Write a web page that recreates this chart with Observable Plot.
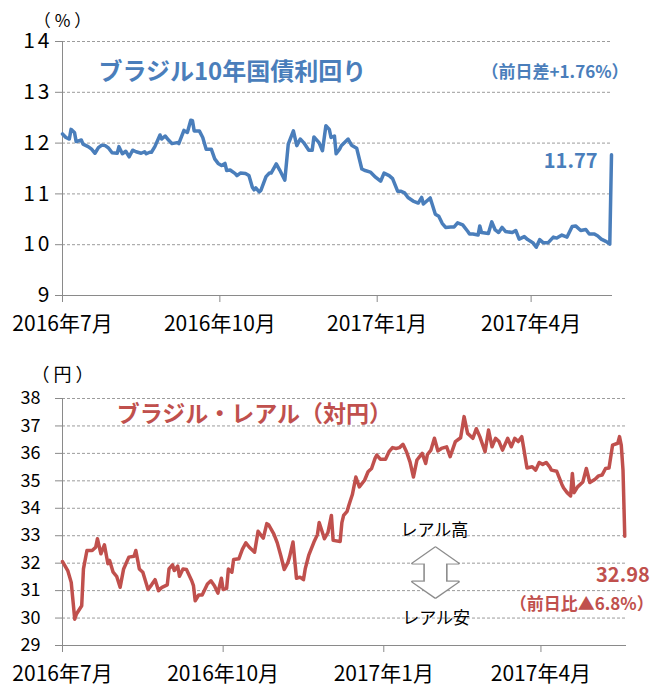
<!DOCTYPE html>
<html><head><meta charset="utf-8">
<script src="https://cdn.jsdelivr.net/npm/d3@7"></script>
<script src="https://cdn.jsdelivr.net/npm/@observablehq/plot@0.6"></script>
<style>
body{margin:0;background:#fff;}
#c{width:654px;height:687px;overflow:hidden;}
#c svg{display:block;overflow:visible;}
.updown{transform-box:fill-box;transform-origin:center;transform:scale(2.0,1.4);}
.unit text{letter-spacing:4px;}
.ytop text{letter-spacing:3px;}
</style></head><body><div id="c"></div>
<script>
// ---- data ----
const yieldDates = [
"2016-07-01","2016-07-03","2016-07-05","2016-07-06","2016-07-08","2016-07-09","2016-07-12","2016-07-13","2016-07-16","2016-07-18","2016-07-20","2016-07-22","2016-07-24","2016-07-26","2016-07-28","2016-07-30",
"2016-08-02","2016-08-03","2016-08-05","2016-08-07","2016-08-09","2016-08-11","2016-08-13","2016-08-16","2016-08-18","2016-08-19","2016-08-21","2016-08-22","2016-08-24","2016-08-27","2016-08-28","2016-08-30",
"2016-09-01","2016-09-03","2016-09-06","2016-09-07","2016-09-10","2016-09-12","2016-09-14","2016-09-15","2016-09-16","2016-09-19","2016-09-21","2016-09-23","2016-09-26","2016-09-28","2016-09-30",
"2016-10-02","2016-10-04","2016-10-05","2016-10-07","2016-10-10","2016-10-11","2016-10-13","2016-10-16","2016-10-18","2016-10-20","2016-10-21","2016-10-22","2016-10-24","2016-10-25","2016-10-28","2016-10-30","2016-10-31",
"2016-11-03","2016-11-05","2016-11-08","2016-11-10","2016-11-13","2016-11-15","2016-11-17","2016-11-19","2016-11-22","2016-11-24","2016-11-25","2016-11-28","2016-11-30",
"2016-12-02","2016-12-04","2016-12-05","2016-12-07","2016-12-08","2016-12-10","2016-12-11","2016-12-15","2016-12-17","2016-12-20","2016-12-23","2016-12-25","2016-12-28","2016-12-31",
"2017-01-03","2017-01-05","2017-01-08","2017-01-10","2017-01-13","2017-01-15","2017-01-17","2017-01-19","2017-01-22","2017-01-25","2017-01-27","2017-01-28","2017-01-30",
"2017-02-01","2017-02-04","2017-02-06","2017-02-08","2017-02-10","2017-02-13","2017-02-15","2017-02-17","2017-02-20","2017-02-23","2017-02-24","2017-02-26",
"2017-03-01","2017-03-02","2017-03-03","2017-03-07","2017-03-09","2017-03-11","2017-03-13","2017-03-15","2017-03-17","2017-03-21","2017-03-23","2017-03-25","2017-03-28","2017-03-30",
"2017-04-02","2017-04-04","2017-04-06","2017-04-08","2017-04-11","2017-04-14","2017-04-16","2017-04-19","2017-04-22","2017-04-25","2017-04-27","2017-04-30",
"2017-05-03","2017-05-05","2017-05-08","2017-05-10","2017-05-12","2017-05-15","2017-05-17","2017-05-18"];
const yieldValues = [
12.18,12.11,12.08,12.27,12.21,12.03,12.06,11.98,11.93,11.88,11.80,11.91,11.96,11.95,11.90,11.81,
11.80,11.93,11.79,11.84,11.73,11.86,11.83,11.80,11.83,11.79,11.82,11.82,11.93,12.16,12.08,12.14,
12.06,11.99,12.01,11.99,12.25,12.21,12.45,12.44,12.24,12.24,12.11,11.88,11.88,11.69,11.60,
11.56,11.60,11.46,11.47,11.40,11.36,11.41,11.40,11.36,11.13,11.08,11.12,11.04,11.07,11.34,11.41,11.41,
11.59,11.47,11.27,11.98,12.24,11.95,12.08,12.01,11.86,11.86,12.12,12.01,11.85,
12.34,12.27,12.11,12.14,11.79,11.88,11.95,12.08,11.96,11.90,11.49,11.46,11.43,11.33,
11.25,11.41,11.36,11.30,11.05,11.05,11.02,10.93,10.86,10.82,10.93,10.80,10.86,
10.92,10.60,10.56,10.42,10.34,10.35,10.35,10.43,10.39,10.26,10.21,10.21,
10.19,10.37,10.24,10.22,10.45,10.29,10.24,10.34,10.26,10.24,10.28,10.11,10.16,10.10,
10.04,9.95,10.10,10.04,10.04,10.15,10.13,10.19,10.15,10.36,10.37,10.28,
10.30,10.21,10.21,10.17,10.11,10.06,10.01,11.77];

const brlDates = [
"2016-07-01","2016-07-04","2016-07-06","2016-07-08","2016-07-09","2016-07-12","2016-07-13","2016-07-15","2016-07-18","2016-07-20","2016-07-21","2016-07-23","2016-07-25","2016-07-27","2016-07-28","2016-07-30",
"2016-08-01","2016-08-03","2016-08-05","2016-08-08","2016-08-11","2016-08-12","2016-08-14","2016-08-16","2016-08-19","2016-08-21","2016-08-23","2016-08-25","2016-08-27","2016-08-30","2016-08-31",
"2016-09-02","2016-09-03","2016-09-05","2016-09-06","2016-09-08","2016-09-10","2016-09-13","2016-09-14","2016-09-15","2016-09-17","2016-09-19","2016-09-22","2016-09-24","2016-09-26","2016-09-28","2016-09-30",
"2016-10-01","2016-10-03","2016-10-04","2016-10-06","2016-10-07","2016-10-10","2016-10-12","2016-10-14","2016-10-16","2016-10-19","2016-10-21","2016-10-24","2016-10-26","2016-10-27","2016-10-30",
"2016-11-01","2016-11-03","2016-11-05","2016-11-07","2016-11-08","2016-11-10","2016-11-12","2016-11-14","2016-11-16","2016-11-17","2016-11-19","2016-11-22","2016-11-24","2016-11-25","2016-11-28","2016-11-30",
"2016-12-02","2016-12-03","2016-12-07","2016-12-08","2016-12-09","2016-12-11","2016-12-12","2016-12-14","2016-12-16","2016-12-18","2016-12-21","2016-12-23","2016-12-25","2016-12-27","2016-12-28","2016-12-30",
"2017-01-02","2017-01-04","2017-01-06","2017-01-08","2017-01-10","2017-01-12","2017-01-14","2017-01-16","2017-01-18","2017-01-20","2017-01-23","2017-01-25","2017-01-26","2017-01-28","2017-01-30",
"2017-02-01","2017-02-03","2017-02-06","2017-02-08","2017-02-11","2017-02-14","2017-02-16","2017-02-18","2017-02-21","2017-02-23","2017-02-25","2017-02-28",
"2017-03-02","2017-03-04","2017-03-06","2017-03-08","2017-03-10","2017-03-13","2017-03-15","2017-03-17","2017-03-19","2017-03-21","2017-03-22","2017-03-24","2017-03-27","2017-03-29","2017-03-31",
"2017-04-02","2017-04-04","2017-04-06","2017-04-07","2017-04-10","2017-04-13","2017-04-14","2017-04-16","2017-04-18","2017-04-19","2017-04-20","2017-04-22","2017-04-25","2017-04-27","2017-04-29",
"2017-05-02","2017-05-04","2017-05-06","2017-05-08","2017-05-10","2017-05-12","2017-05-15","2017-05-16","2017-05-17","2017-05-18","2017-05-19"];
const brlValues = [
32.06,31.73,31.30,29.96,30.15,30.45,31.79,32.46,32.46,32.58,32.89,32.34,32.67,31.98,32.10,31.67,
31.52,31.12,31.79,32.22,32.25,32.46,31.79,31.67,31.04,31.21,31.40,31.00,31.12,31.21,31.79,
31.94,31.73,31.89,31.52,31.79,31.77,31.36,31.18,30.63,30.84,30.84,31.24,31.36,31.18,30.91,31.45,
31.04,31.08,31.79,31.67,32.13,32.16,32.50,32.74,32.58,32.40,33.16,32.91,33.44,33.40,33.07,
32.74,32.28,31.77,32.01,32.22,32.77,31.45,31.49,31.40,31.79,32.28,32.77,33.04,33.48,32.89,33.11,
33.74,32.83,32.79,33.48,33.74,33.89,34.11,34.50,35.14,34.78,35.02,35.33,35.45,35.82,35.94,35.79,
35.79,36.06,36.21,36.18,36.21,36.33,36.06,35.69,35.14,35.76,36.00,35.63,35.96,36.12,36.55,
36.09,36.18,36.24,35.88,36.43,36.57,37.34,36.73,36.55,36.90,36.61,36.06,
36.85,36.24,36.55,36.43,36.12,36.55,36.24,36.55,36.43,36.61,36.24,35.47,35.51,35.39,35.67,
35.60,35.67,35.51,35.39,35.35,34.87,34.74,34.57,34.45,35.27,34.57,34.78,34.96,35.45,34.94,
35.06,35.18,35.21,35.45,35.47,36.30,36.37,36.61,36.30,35.39,32.98];

const xTickDates = ["2016-07-01","2016-10-01","2017-01-01","2017-04-01"];
const xTickLabels = ["2016年7月","2016年10月","2017年1月","2017年4月"];
const yieldTicks = [9,10,11,12,13,14];
const brlTicks = [29,30,31,32,33,34,35,36,37,38];

const yieldTitle = "ブラジル10年国債利回り";
const yieldChange = "（前日差+1.76%）";
const yieldUnit = "（%）";
const brlTitle = "ブラジル・レアル（対円）";
const brlChange = "（前日比▲6.8%）";
const brlUnit = "（円）";
const upLabel = "レアル高";
const downLabel = "レアル安";

// ---- build ----
const FONT = '"Noto Sans CJK JP","Noto Sans",sans-serif';
const BLUE = "#4A7EBB", RED = "#C0504D", GRID = "#9c9c9c", AXIS = "#8a8a8a";
const parse = s => new Date(s + "T00:00:00Z");
const xt = xTickDates.map(parse);
const fmt = d => xTickLabels[xt.findIndex(t => +t === +d)];
const yieldData = yieldDates.map((d, i) => ({date: parse(d), value: yieldValues[i]}));
const brlData = brlDates.map((d, i) => ({date: parse(d), value: brlValues[i]}));
const yLast = yieldData[yieldData.length - 1];
const bLast = brlData[brlData.length - 1];

const topChart = Plot.plot({
  width: 654, height: 340,
  marginTop: 41, marginBottom: 45, marginLeft: 62, marginRight: 42,
  style: {fontFamily: FONT, background: "#fff", color: "#000"},
  x: {type: "utc", domain: [xt[0], new Date("2017-05-18T14:00:00Z")]},
  y: {domain: [9, 14]},
  marks: [
    Plot.ruleY(yieldTicks.slice(1), {stroke: GRID, strokeDasharray: "3,2"}),
    Plot.axisY(yieldTicks, {tickSize: 7, tickPadding: 3, tickFormat: d => String(d), stroke: AXIS, fill: "#000", fontSize: 21, label: null, className: "ytop"}),
    Plot.axisX(xt, {tickSize: 7, tickPadding: 14, tickFormat: fmt, stroke: AXIS, fill: "#000", fontSize: 21, label: null}),
    Plot.ruleY([9], {stroke: AXIS}),
    Plot.ruleX([xt[0]], {stroke: AXIS}),
    Plot.line(yieldData, {x: "date", y: "value", stroke: BLUE, strokeWidth: 3.5, strokeLinejoin: "round"}),
    Plot.text([yieldUnit], {x: () => xt[0], y: () => 14, dy: -20, dx: 2, text: d => d, fontSize: 17, fill: "#000", className: "unit"}),
    Plot.text([yieldTitle], {x: () => parse("2016-07-22"), y: () => 13.39, text: d => d, textAnchor: "start", fontSize: 24, fontWeight: "bold", fill: BLUE}),
    Plot.text([yieldChange], {x: () => parse("2017-04-15"), y: () => 13.38, text: d => d, fontSize: 17, fontWeight: "bold", fill: BLUE}),
    Plot.text([yLast], {x: "date", y: "value", text: d => d.value.toFixed(2), dx: -14, dy: 7, textAnchor: "end", fontSize: 20, fontWeight: "bold", fill: BLUE})
  ]
});

const botChart = Plot.plot({
  width: 654, height: 347,
  marginTop: 58, marginBottom: 42, marginLeft: 62, marginRight: 28,
  style: {fontFamily: FONT, background: "#fff", color: "#000"},
  x: {type: "utc", domain: [xt[0], new Date("2017-05-20T00:00:00Z")]},
  y: {domain: [29, 38]},
  marks: [
    Plot.ruleY(brlTicks.slice(1), {stroke: GRID, strokeDasharray: "3,2"}),
    Plot.axisY(brlTicks, {tickSize: 7, tickPadding: 15, stroke: AXIS, fill: "#000", fontSize: 18, label: null}),
    Plot.axisX(xt, {tickSize: 7, tickPadding: 14, tickFormat: fmt, stroke: AXIS, fill: "#000", fontSize: 21, label: null}),
    Plot.ruleY([29], {stroke: AXIS}),
    Plot.ruleX([xt[0]], {stroke: AXIS}),
    Plot.line(brlData, {x: "date", y: "value", stroke: RED, strokeWidth: 3.5, strokeLinejoin: "round"}),
    Plot.text([brlUnit], {x: () => xt[0], y: () => 38, dy: -23, dx: 2, text: d => d, fontSize: 18, fill: "#000", className: "unit"}),
    Plot.text([brlTitle], {x: () => parse("2016-08-01"), y: () => 37.42, text: d => d, textAnchor: "start", fontSize: 23, fontWeight: "bold", fill: RED}),
    Plot.text([upLabel], {x: () => parse("2017-01-30"), y: () => 33.18, text: d => d, fontSize: 17, fill: "#000"}),
    Plot.text([downLabel], {x: () => parse("2017-01-31"), y: () => 29.97, text: d => d, fontSize: 17, fill: "#000"}),
    Plot.text(["⬍"], {x: () => parse("2017-01-31"), y: () => 31.55, text: d => d, className: "updown", fontFamily: "DejaVu Sans", fontSize: 46, fill: "#fff", stroke: "#8c8c8c", strokeWidth: 1.6}),
    Plot.text([bLast], {x: "date", y: "value", text: d => d.value.toFixed(2), dx: 25, dy: 39, textAnchor: "end", fontSize: 20, fontWeight: "bold", fill: RED}),
    Plot.text([brlChange], {x: () => bLast.date, y: () => bLast.value, text: d => d, dx: 29, dy: 68, textAnchor: "end", fontSize: 17, fontWeight: "bold", fill: RED})
  ]
});

const c = document.getElementById("c");
c.appendChild(topChart);
c.appendChild(botChart);
</script>
</body></html>
